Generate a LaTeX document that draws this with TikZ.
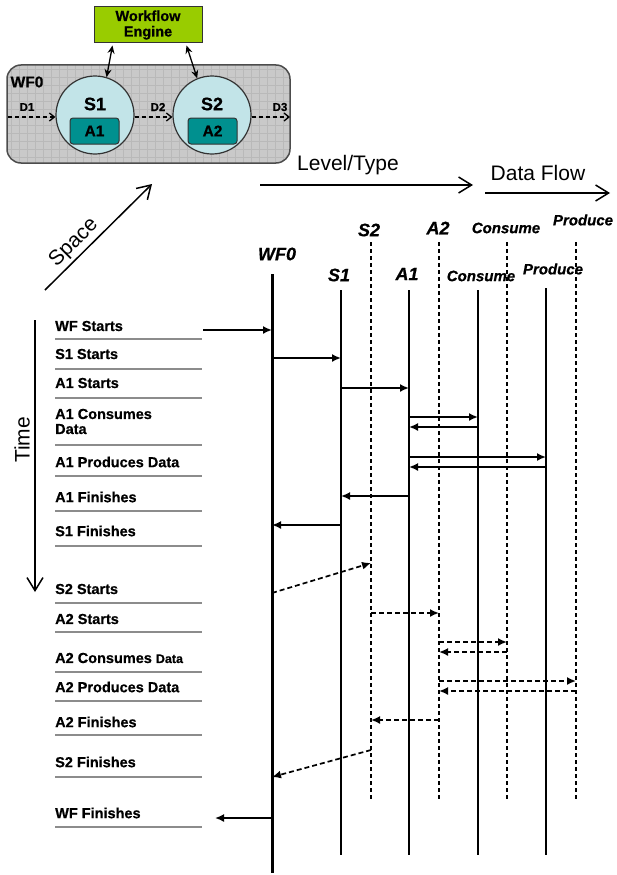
\documentclass[tikz,border=0pt]{standalone}
\usepackage{fontspec}
\setmainfont{Liberation Sans}[BoldFeatures={FakeBold=0.6}, BoldItalicFeatures={FakeBold=0.6}]
\usetikzlibrary{arrows.meta,calc}
\definecolor{enggreen}{HTML}{99CC00}
\definecolor{boxgray}{HTML}{C9C9C9}
\definecolor{gridgray}{HTML}{B9B9B9}
\definecolor{circcyan}{HTML}{C2E4E8}
\definecolor{actteal}{HTML}{00908F}
\definecolor{sepgray}{HTML}{8C8C8C}
\begin{document}
\begin{tikzpicture}[x=1pt,y=-1pt,
  evlbl/.style={font=\bfseries\fontsize{14.5}{16}\selectfont, anchor=west, inner sep=0pt, align=left},
  colbig/.style={font=\bfseries\itshape\fontsize{18}{20}\selectfont, inner sep=0pt},
  colsm/.style={font=\bfseries\itshape\fontsize{15}{17}\selectfont, inner sep=0pt},
  msg/.style={line width=1.7pt, -{Latex[length=9pt,width=8pt]}},
  dmsg/.style={msg, dash pattern=on 5pt off 3pt},
  lifeline/.style={line width=1.6pt},
  dlifeline/.style={line width=1.3pt, dash pattern=on 4pt off 3pt},
  sepline/.style={draw=sepgray, line width=2pt},
  axisarrow/.style={line width=1.5pt, -{Straight Barb[length=13pt,width=16pt]}},
  axislbl/.style={font=\fontsize{21}{23}\selectfont, inner sep=0pt},
  dflow/.style={line width=1.3pt, dash pattern=on 4pt off 3pt, -{Straight Barb[length=5pt,width=8pt]}},
  ctrl/.style={line width=1.3pt, {Stealth[length=8pt,width=7pt]}-{Stealth[length=8pt,width=7pt]}}
]
\useasboundingbox (0,0) rectangle (616,875);

% ---------- top workflow sketch ----------
\node (eng) [draw=black!80, line width=1pt, fill=enggreen, minimum width=108pt, minimum height=36pt,
  inner sep=0pt, align=center, font=\bfseries\fontsize{14.5}{15.5}\selectfont] at (148,25) {Workflow\\Engine};
\fill[boxgray, rounded corners=14pt] (7,65) rectangle (290,163);
\begin{scope}
  \clip[rounded corners=14pt] (7,65) rectangle (290,163);
  \foreach \gx in {11,19,...,290} \draw[gridgray, line width=0.5pt] (\gx,65) -- (\gx,163);
  \foreach \gy in {69,77,...,163} \draw[gridgray, line width=0.5pt] (7,\gy) -- (290,\gy);
\end{scope}
\node (wfbox) [draw=black!70, line width=1.5pt, rounded corners=14pt, minimum width=283pt, minimum height=98pt] at (148.5,114) {};
\node (wflbl) [font=\bfseries\fontsize{15.5}{17}\selectfont, inner sep=0pt] at (27,82) {WF0};
\node (s1c) [circle, draw=black!80, line width=1.2pt, fill=circcyan, minimum size=78pt, inner sep=0pt] at (95,115) {};
\node (s2c) [circle, draw=black!80, line width=1.2pt, fill=circcyan, minimum size=78pt, inner sep=0pt] at (212,115) {};
\node (s1t) [font=\bfseries\fontsize{18}{20}\selectfont, inner sep=0pt] at (95,104) {S1};
\node (s2t) [font=\bfseries\fontsize{18}{20}\selectfont, inner sep=0pt] at (212,104) {S2};
\node (a1r) [draw=black!80, line width=1pt, fill=actteal, rounded corners=3pt, minimum width=49pt, minimum height=26pt,
  inner sep=0pt, font=\bfseries\fontsize{15.5}{17}\selectfont] at (94.5,131) {A1};
\node (a2r) [draw=black!80, line width=1pt, fill=actteal, rounded corners=3pt, minimum width=49pt, minimum height=26pt,
  inner sep=0pt, font=\bfseries\fontsize{15.5}{17}\selectfont] at (212.5,131) {A2};
\coordinate (din) at (8,117);
\coordinate (dout) at (290,117);
\draw[dflow] (din) -- (s1c.west |- 0,117);
\draw[dflow] (s1c.east |- 0,117) -- (s2c.west |- 0,117);
\draw[dflow] (s2c.east |- 0,117) -- (dout);
\node (d1) [font=\bfseries\fontsize{11.5}{13}\selectfont, inner sep=0pt] at (27,107) {D1};
\node (d2) [font=\bfseries\fontsize{11.5}{13}\selectfont, inner sep=0pt] at (158,107) {D2};
\node (d3) [font=\bfseries\fontsize{11.5}{13}\selectfont, inner sep=0pt] at (280,107) {D3};
\draw[ctrl] ($(eng.south west)+(19,2)$) -- (s1c.73);
\draw[ctrl] ($(eng.south west)+(93,2)$) -- (s2c.112);

% ---------- axes ----------
\coordinate (spA) at (45,290); \coordinate (spB) at (152,184);
\draw[axisarrow] (spA) -- (spB);
\node (spl) [axislbl, rotate=45] at (74,243) {Space};
\coordinate (lvA) at (260,185); \coordinate (lvB) at (473,185);
\draw[axisarrow] (lvA) -- (lvB);
\node (lvl) [axislbl] at (348,165) {Level/Type};
\coordinate (dfA) at (485,193); \coordinate (dfB) at (610,193);
\draw[axisarrow] (dfA) -- (dfB);
\node (dfl) [axislbl] at (538,173) {Data Flow};
\coordinate (tmA) at (35,320); \coordinate (tmB) at (35,592);
\draw[axisarrow] (tmA) -- (tmB);
\node (tml) [axislbl, rotate=90] at (22,440) {Time};

% ---------- column labels ----------
\node (hWF) [colbig] at (277,254) {WF0};
\node (hS1) [colbig] at (339,275) {S1};
\node (hA1) [colbig] at (407,274) {A1};
\node (hS2) [colbig] at (369,230) {S2};
\node (hA2) [colbig] at (438,228) {A2};
\node (hC1) [colsm] at (481,276) {Consume};
\node (hC2) [colsm] at (506,228) {Consume};
\node (hP1) [colsm] at (553,269) {Produce};
\node (hP2) [colsm] at (583,220) {Produce};

% ---------- lifelines ----------
\coordinate (wf) at (272,274); \coordinate (wfE) at (272,873);
\coordinate (s1) at (341,290); \coordinate (s1E) at (341,855);
\coordinate (a1) at (409,290); \coordinate (a1E) at (409,855);
\coordinate (c1) at (478,290); \coordinate (c1E) at (478,855);
\coordinate (p1) at (546,288); \coordinate (p1E) at (546,855);
\coordinate (s2) at (371,242); \coordinate (s2E) at (371,800);
\coordinate (a2) at (439,242); \coordinate (a2E) at (439,800);
\coordinate (c2) at (507,242); \coordinate (c2E) at (507,800);
\coordinate (p2) at (576,242); \coordinate (p2E) at (576,800);
\draw[line width=3pt] (wf) -- (wfE);
\foreach \l in {s1,a1,c1,p1} \draw[lifeline] (\l) -- (\l E);
\foreach \l in {s2,a2,c2,p2} \draw[dlifeline] (\l) -- (\l E);

% ---------- event labels ----------
\foreach \t/\ty/\ly in {WF Starts/326/339, S1 Starts/354/369, A1 Starts/383/398,
  A1 Produces Data/462/476, A1 Finishes/497/511, S1 Finishes/531/546,
  S2 Starts/589/603, A2 Starts/619/632, A2 Produces Data/687/701,
  A2 Finishes/722/735, S2 Finishes/762/777, WF Finishes/813/827}
{
  \node[evlbl] at (55,\ty) {\t};
  \draw[sepline] (55,\ly) -- (202,\ly);
}
\node (ev4) [evlbl] at (55,421.5) {A1 Consumes\\[-1pt]Data};
\draw[sepline] (55,445) -- (202,445);
\node (ev10) [evlbl] at (55,658) {A2 Consumes {\fontsize{12.5}{14}\selectfont Data}};
\draw[sepline] (55,672) -- (202,672);

% ---------- messages ----------
\coordinate (wfin) at (203,330);
\coordinate (wfout) at (215,818);
\draw[msg] (wfin) -- (wf |- 0,330);
\draw[msg] (wf |- 0,358) -- (s1 |- 0,358);
\draw[msg] (s1 |- 0,388) -- (a1 |- 0,388);
\draw[msg] (a1 |- 0,417) -- (c1 |- 0,417);
\draw[msg] (c1 |- 0,427) -- (a1 |- 0,427);
\draw[msg] (a1 |- 0,457) -- (p1 |- 0,457);
\draw[msg] (p1 |- 0,467) -- (a1 |- 0,467);
\draw[msg] (a1 |- 0,496) -- (s1 |- 0,496);
\draw[msg] (s1 |- 0,525) -- (wf |- 0,525);
\draw[dmsg] (wf |- 0,593) -- (s2 |- 0,563);
\draw[dmsg] (s2 |- 0,613) -- (a2 |- 0,613);
\draw[dmsg] (a2 |- 0,642) -- (c2 |- 0,642);
\draw[dmsg] (c2 |- 0,652) -- (a2 |- 0,652);
\draw[dmsg] (a2 |- 0,681) -- (p2 |- 0,681);
\draw[dmsg] (p2 |- 0,691) -- (a2 |- 0,691);
\draw[dmsg] (a2 |- 0,720) -- (s2 |- 0,720);
\draw[dmsg] (s2 |- 0,750) -- (wf |- 0,777);
\draw[msg] (wf |- 0,818) -- (wfout);
\end{tikzpicture}
\end{document}
